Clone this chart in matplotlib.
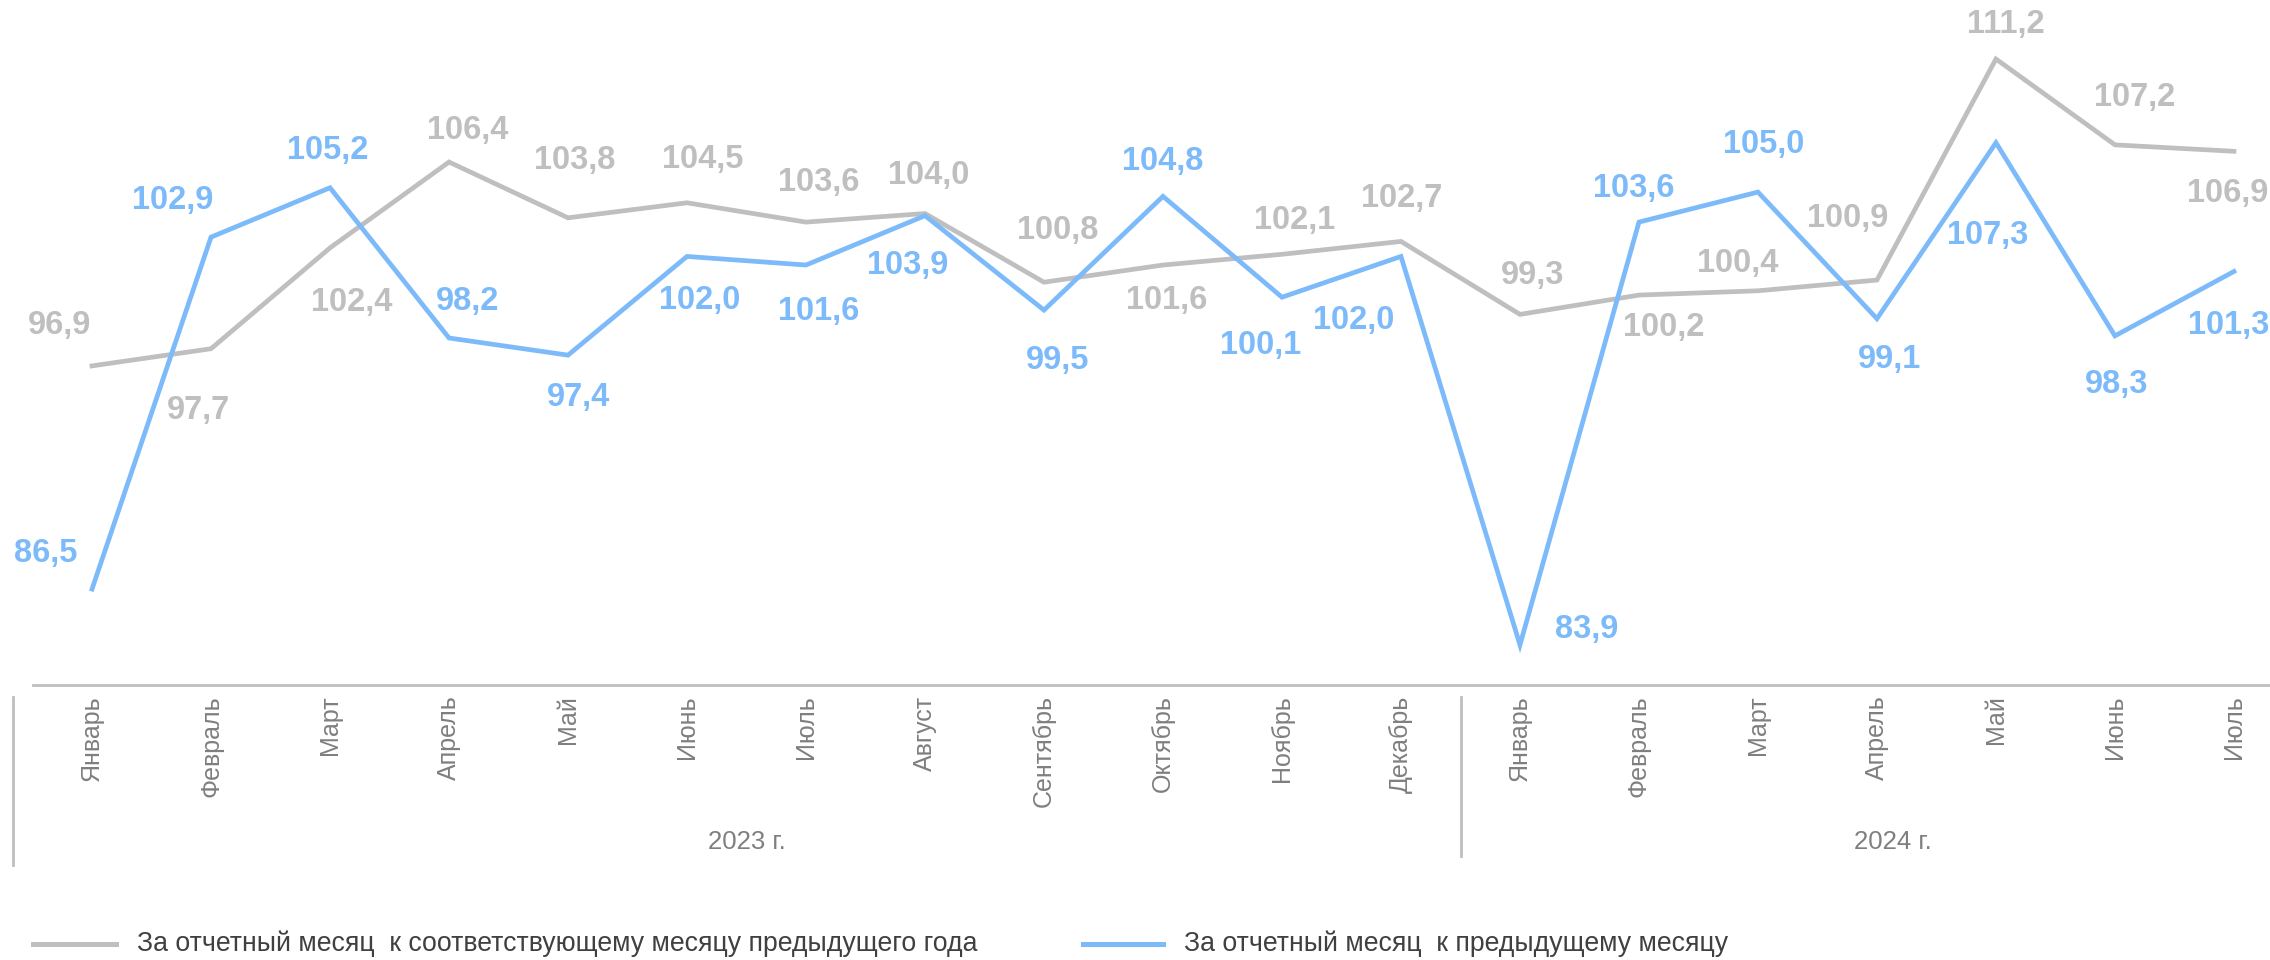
import matplotlib
matplotlib.use("Agg")
import matplotlib.pyplot as plt
from matplotlib.lines import Line2D

plt.rcParams["font.family"] = ["Liberation Sans", "DejaVu Sans"]

MONTHS = ["Январь", "Февраль", "Март", "Апрель", "Май", "Июнь", "Июль",
          "Август", "Сентябрь", "Октябрь", "Ноябрь", "Декабрь",
          "Январь", "Февраль", "Март", "Апрель", "Май", "Июнь", "Июль"]
YEARS = ["2023 г.", "2024 г."]

# index to the same month of the previous year
yoy = [96.9, 97.7, 102.4, 106.4, 103.8, 104.5, 103.6, 104.0, 100.8, 101.6,
       102.1, 102.7, 99.3, 100.2, 100.4, 100.9, 111.2, 107.2, 106.9]
# index to the previous month
mom = [86.5, 102.9, 105.2, 98.2, 97.4, 102.0, 101.6, 103.9, 99.5, 104.8,
       100.1, 102.0, 83.9, 103.6, 105.0, 99.1, 107.3, 98.3, 101.3]

LEGEND = ["За отчетный месяц  к соответствующему месяцу предыдущего года",
          "За отчетный месяц  к предыдущему месяцу"]

GRAY = "#BFBFBF"
BLUE = "#7DBAFA"
TICK_COLOR = "#7F7F7F"

# label offsets in pixels (dx, dy), picked by hand to sit like the original
yoy_off = [(-32, 40), (-13, -62), (22, -55), (19, 32), (7, 57), (16, 43),
           (13, 40), (4, 38), (14, 52), (4, -35), (13, 34), (1, 43),
           (13, 39), (25, -32), (-20, 27), (-29, 62), (10, 35), (20, 47),
           (-6, -42)]
mom_off = [(-46, 36), (-38, 37), (-2, 37), (19, 36), (10, -42), (13, -44),
           (13, -46), (-17, -50), (14, -50), (0, 35), (-21, -48), (-47, -64),
           (67, 15), (-5, 34), (6, 48), (13, -41), (-8, -93), (2, -49),
           (-5, -54)]

W, H = 2270, 960
fig = plt.figure(figsize=(W / 100, H / 100), dpi=100)
ax = fig.add_axes([33 / W, (H - 685) / H, 1 - 33 / W, 685 / H])

x = list(range(len(MONTHS)))
ax.plot(x, yoy, color=GRAY, lw=3.4, solid_joinstyle="miter")
ax.plot(x, mom, color=BLUE, lw=3.4, solid_joinstyle="miter")


def fmt(v):
    return f"{v:.1f}".replace(".", ",")


for i in x:
    ax.annotate(fmt(yoy[i]), (i, yoy[i]), xytext=yoy_off[i],
                textcoords="offset pixels", ha="center", va="center",
                fontsize=23.5, fontweight="bold", color=GRAY)
    ax.annotate(fmt(mom[i]), (i, mom[i]), xytext=mom_off[i],
                textcoords="offset pixels", ha="center", va="center",
                fontsize=23.5, fontweight="bold", color=BLUE)

ax.set_xlim(-0.496, 18.303)
ax.set_ylim(82.03, 113.95)
ax.set_yticks([])
ax.set_xticks(x)
ax.set_xticklabels(MONTHS, rotation=90, va="top", ha="center",
                   fontsize=18, color=TICK_COLOR)
ax.tick_params(axis="x", length=0, pad=7.5)
for side in ["top", "left", "right"]:
    ax.spines[side].set_visible(False)
ax.spines["bottom"].set_color(GRAY)
ax.spines["bottom"].set_linewidth(2)

# year group labels and separators
ax.text(5.5, -0.229, YEARS[0], transform=ax.get_xaxis_transform(),
        ha="center", va="center", fontsize=18.5, color=TICK_COLOR)
ax.text(15.13, -0.229, YEARS[1], transform=ax.get_xaxis_transform(),
        ha="center", va="center", fontsize=18.5, color=TICK_COLOR)
fig.add_artist(Line2D([12.7 / W, 12.7 / W], [1 - 697 / H, 1 - 865 / H],
                      color=GRAY, lw=2))
fig.add_artist(Line2D([1461 / W, 1461 / W], [1 - 697 / H, 1 - 856 / H],
                      color=GRAY, lw=2))

# legend
ly = 1 - 944 / H
fig.add_artist(Line2D([33 / W, 116 / W], [ly, ly], color=GRAY, lw=3.6))
fig.text(137 / W, ly, LEGEND[0], ha="left", va="center", fontsize=19.2,
         color="#404040")
fig.add_artist(Line2D([1083 / W, 1163 / W], [ly, ly], color=BLUE, lw=3.6))
fig.text(1184 / W, ly, LEGEND[1], ha="left", va="center", fontsize=19.2,
         color="#404040")

fig.savefig("out.png", dpi=100)
